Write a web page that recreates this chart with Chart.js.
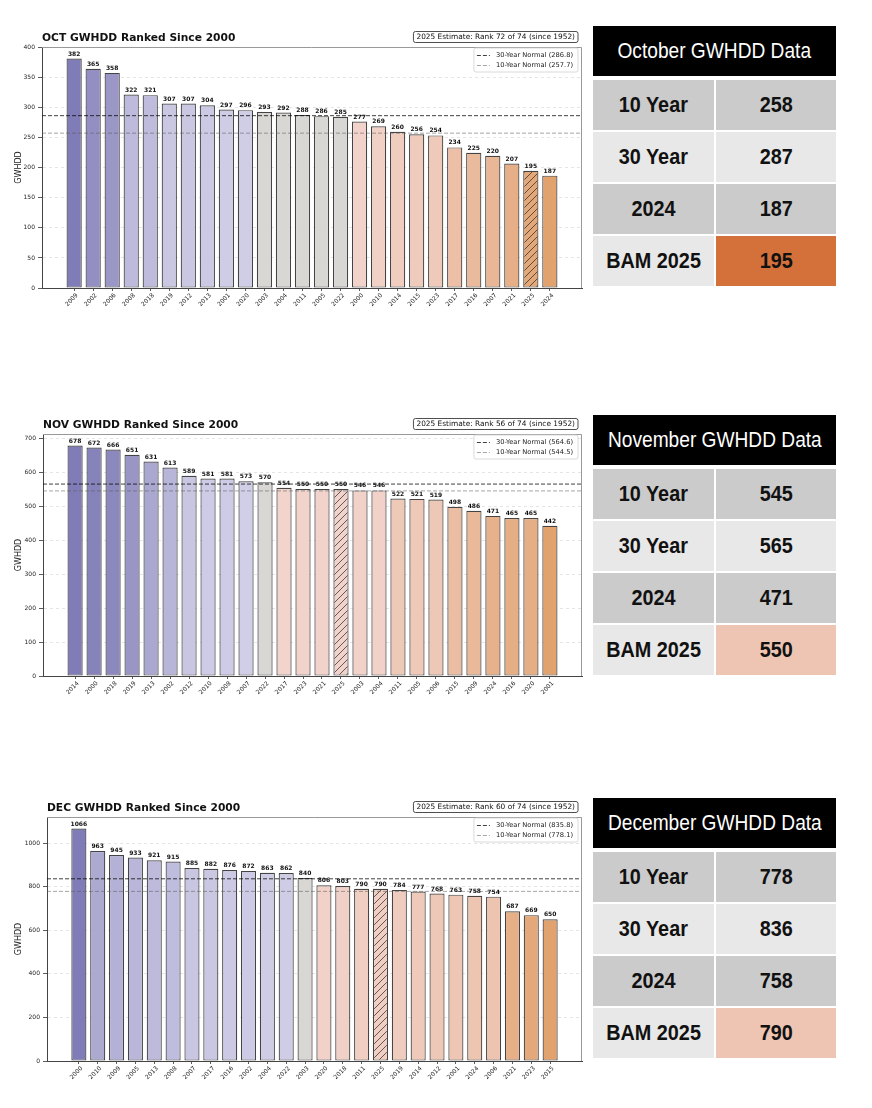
<!DOCTYPE html>
<html>
<head>
<meta charset="utf-8">
<title>GWHDD Ranked Since 2000</title>
<script src="https://cdn.jsdelivr.net/npm/chart.js@4.4.1/dist/chart.umd.min.js"></script>
<style>
  html, body { margin: 0; padding: 0; background: #fff; }
  body { position: relative; width: 872px; height: 1108px; overflow: hidden; }
  canvas.panel { position: absolute; left: 0; }
  .tbl {
    position: absolute; left: 593px; width: 243px;
    display: grid; grid-template-columns: 121px 120px; column-gap: 2px; row-gap: 2px;
    font-family: "Liberation Sans", Arial, sans-serif;
  }
  .tbl .head {
    grid-column: 1 / 3; height: 50px; margin-bottom: 2px;
    background: #000; color: #fff; font-size: 22px;
    display: flex; align-items: center; justify-content: center; white-space: nowrap;
  }
  .tbl .head span { display: inline-block; transform: scaleX(0.87); }
  .tbl .cell {
    height: 50px; color: #111; font-size: 22px; font-weight: bold;
    display: flex; align-items: center; justify-content: center; white-space: nowrap;
  }
  .tbl .cell span { display: inline-block; transform: scaleX(0.9); }
  .dark { background: #cbcbcb; }
  .light { background: #e8e8e8; }
</style>
</head>
<body>
<canvas id="oct" class="panel" width="590" height="295" style="top:25px"></canvas>
<canvas id="nov" class="panel" width="590" height="296" style="top:412px"></canvas>
<canvas id="dec" class="panel" width="590" height="298" style="top:795px"></canvas>
<div id="octTable" class="tbl" style="top:26px"></div>
<div id="novTable" class="tbl" style="top:415px"></div>
<div id="decTable" class="tbl" style="top:798px"></div>

<script>
// ---- data ----
const OCT_YEARS = ['2009', '2002', '2006', '2008', '2018', '2019', '2012', '2013', '2001', '2020', '2003', '2004', '2011',
  '2005', '2022', '2000', '2010', '2014', '2015', '2023', '2017', '2016', '2007', '2021', '2025', '2024'];
const OCT_VALUES = [382, 365, 358, 322, 321, 307, 307, 304, 297, 296, 293, 292, 288,
  286, 285, 277, 269, 260, 256, 254, 234, 225, 220, 207, 195, 187];
const OCT_NORMALS = [286.8, 257.7];

const NOV_YEARS = ['2014', '2000', '2018', '2019', '2013', '2002', '2012', '2010', '2008', '2007', '2022', '2017', '2023',
  '2021', '2025', '2003', '2004', '2011', '2005', '2006', '2015', '2009', '2024', '2016', '2020', '2001'];
const NOV_VALUES = [678, 672, 666, 651, 631, 613, 589, 581, 581, 573, 570, 554, 550,
  550, 550, 546, 546, 522, 521, 519, 498, 486, 471, 465, 465, 442];
const NOV_NORMALS = [564.6, 544.5];

const DEC_YEARS = ['2000', '2010', '2009', '2005', '2013', '2008', '2007', '2017', '2016', '2002', '2004', '2022', '2003',
  '2020', '2018', '2011', '2025', '2019', '2014', '2012', '2001', '2024', '2006', '2021', '2023', '2015'];
const DEC_VALUES = [1066, 963, 945, 933, 921, 915, 885, 882, 876, 872, 863, 862, 840,
  806, 803, 790, 790, 784, 777, 768, 763, 758, 754, 687, 669, 650];
const DEC_NORMALS = [835.8, 778.1];

const RANKS = ['2025 Estimate: Rank 72 of 74 (since 1952)', '2025 Estimate: Rank 56 of 74 (since 1952)',
  '2025 Estimate: Rank 60 of 74 (since 1952)'];

const TABLE_LABELS = ['10 Year', '30 Year', '2024', 'BAM 2025'];
const OCT_TABLE = [258, 287, 187, 195];
const NOV_TABLE = [545, 565, 471, 550];
const DEC_TABLE = [778, 836, 758, 790];

const ESTIMATE_YEAR = '2025';

Chart.defaults.font.family = '"DejaVu Sans", sans-serif';
Chart.defaults.color = '#222';

// purple above the 30 year normal, grey near it, pink/orange below
function barColor(v, normal, maxUp, maxDown) {
  const d = v - normal;
  if (Math.abs(d) < 7.5) return 'rgb(216,215,212)';
  const t = Math.pow(Math.abs(d) / (d > 0 ? maxUp : maxDown), 1.3);
  const lo = d > 0 ? [212, 210, 233] : [243, 214, 209];
  const hi = d > 0 ? [128, 124, 183] : [226, 162, 110];
  return 'rgb(' + lo.map((c, i) => Math.round(c + (hi[i] - c) * t)).join(',') + ')';
}

function hatch(ctx, color) {
  const c = document.createElement('canvas');
  c.width = 7; c.height = 7;
  const g = c.getContext('2d');
  g.fillStyle = color;
  g.fillRect(0, 0, 7, 7);
  g.strokeStyle = 'rgba(40,40,40,0.9)';
  g.lineWidth = 0.8;
  g.beginPath();
  g.moveTo(0, 7); g.lineTo(7, 0);
  g.moveTo(-1, 1); g.lineTo(1, -1);
  g.moveTo(6, 8); g.lineTo(8, 6);
  g.stroke();
  return ctx.createPattern(c, 'repeat');
}

function roundRect(ctx, x, y, w, h, r) {
  ctx.beginPath();
  ctx.moveTo(x + r, y);
  ctx.arcTo(x + w, y, x + w, y + h, r);
  ctx.arcTo(x + w, y + h, x, y + h, r);
  ctx.arcTo(x, y + h, x, y, r);
  ctx.arcTo(x, y, x + w, y, r);
  ctx.closePath();
}

const decor = {
  id: 'decor',
  afterDatasetsDraw(chart) {
    const ctx = chart.ctx;
    const ds = chart.data.datasets[0];
    ctx.save();
    ctx.font = 'bold 6px "DejaVu Sans"';
    ctx.fillStyle = '#111';
    ctx.textAlign = 'center';
    ctx.textBaseline = 'bottom';
    chart.getDatasetMeta(0).data.forEach((bar, i) => {
      ctx.fillText(String(ds.data[i].y), bar.x, bar.y - 1.5);
    });
    ctx.restore();
  },
  afterDraw(chart, args, o) {
    const ctx = chart.ctx;
    const a = chart.chartArea;
    ctx.save();

    // top + right spines
    ctx.strokeStyle = '#999';
    ctx.lineWidth = 1;
    ctx.beginPath();
    ctx.moveTo(a.left, a.top + 0.5);
    ctx.lineTo(a.right - 0.5, a.top + 0.5);
    ctx.lineTo(a.right - 0.5, a.bottom);
    ctx.stroke();

    // title
    ctx.font = 'bold 10.7px "DejaVu Sans"';
    ctx.fillStyle = '#111';
    ctx.textAlign = 'left';
    ctx.textBaseline = 'middle';
    ctx.fillText(o.title, a.left, a.top - 8.5);

    // rank box
    ctx.font = '7.4px "DejaVu Sans"';
    const rw = ctx.measureText(o.rank).width + 6;
    const rx = a.right - 4 - rw, ry = a.top - 15.5;
    roundRect(ctx, rx, ry, rw, 11, 2);
    ctx.fillStyle = '#fff';
    ctx.fill();
    ctx.strokeStyle = '#222';
    ctx.lineWidth = 0.8;
    ctx.stroke();
    ctx.fillStyle = '#111';
    ctx.fillText(o.rank, rx + 3, ry + 5.7);

    // legend for the normal lines
    const items = chart.data.datasets.slice(1);
    ctx.font = '6.7px "DejaVu Sans"';
    const tw = Math.max(...items.map(d => ctx.measureText(d.label).width));
    const lw = tw + 27, lx = a.right - 4 - lw, ly = a.top + 1;
    roundRect(ctx, lx, ly, lw, 24, 2);
    ctx.fillStyle = 'rgba(255,255,255,0.85)';
    ctx.fill();
    ctx.strokeStyle = '#d0d0d0';
    ctx.lineWidth = 0.8;
    ctx.stroke();
    items.forEach((d, i) => {
      const y = ly + 7.5 + i * 10;
      ctx.strokeStyle = d.borderColor;
      ctx.lineWidth = d.borderWidth;
      ctx.setLineDash(d.borderDash);
      ctx.beginPath();
      ctx.moveTo(lx + 3, y);
      ctx.lineTo(lx + 16, y);
      ctx.stroke();
      ctx.setLineDash([]);
      ctx.fillStyle = '#222';
      ctx.fillText(d.label, lx + 22, y);
    });
    ctx.restore();
  }
};

function makeChart(id, title, years, values, normals, rank, yStep, axisWidth) {
  const canvas = document.getElementById(id);
  const ctx = canvas.getContext('2d');
  const n = years.length;
  const pad = 0.4 + 0.05 * (n - 0.2);
  const maxUp = Math.max(...values) - normals[0];
  const maxDown = normals[0] - Math.min(...values);
  const colors = values.map((v, i) => {
    const c = barColor(v, normals[0], maxUp, maxDown);
    return years[i] === ESTIMATE_YEAR ? hatch(ctx, c) : c;
  });

  return new Chart(canvas, {
    type: 'bar',
    data: {
      datasets: [{
        label: 'GWHDD',
        data: values.map((v, i) => ({ x: i, y: v })),
        backgroundColor: colors,
        borderColor: 'rgba(35,35,35,0.85)',
        borderWidth: 1.2,
        borderSkipped: false,
        barPercentage: 0.8,
        categoryPercentage: 1,
        order: 2
      }, {
        type: 'line',
        label: '30-Year Normal (' + normals[0].toFixed(1) + ')',
        data: [{ x: -pad, y: normals[0] }, { x: n - 1 + pad, y: normals[0] }],
        borderColor: 'rgba(0,0,0,0.75)',
        borderWidth: 1,
        borderDash: [4, 2],
        pointRadius: 0,
        order: 0
      }, {
        type: 'line',
        label: '10-Year Normal (' + normals[1].toFixed(1) + ')',
        data: [{ x: -pad, y: normals[1] }, { x: n - 1 + pad, y: normals[1] }],
        borderColor: 'rgba(90,90,90,0.6)',
        borderWidth: 0.9,
        borderDash: [4, 2],
        pointRadius: 0,
        order: 1
      }]
    },
    options: {
      responsive: false,
      animation: false,
      events: [],
      layout: { padding: { top: 22, right: 8, left: 0, bottom: 0 } },
      plugins: {
        legend: { display: false },
        tooltip: { enabled: false },
        decor: { title: title, rank: rank }
      },
      scales: {
        x: {
          type: 'linear',
          min: -pad,
          max: n - 1 + pad,
          bounds: 'data',
          offset: false,
          afterBuildTicks: s => { s.ticks = years.map((_, i) => ({ value: i })); },
          afterFit: s => { s.height = 32; },
          border: { color: '#444', width: 1 },
          grid: { offset: false, drawOnChartArea: false, drawTicks: true, tickLength: 3, tickColor: '#333', tickWidth: 0.8 },
          ticks: {
            autoSkip: false, minRotation: 45, maxRotation: 45, padding: 1, labelOffset: 3,
            font: { size: 6 }, color: '#222',
            callback: v => years[v] ?? ''
          }
        },
        y: {
          min: 0,
          max: Math.max(...values) * 1.05,
          bounds: 'data',
          afterBuildTicks: s => {
            const t = [];
            for (let v = 0; v <= s.max; v += yStep) t.push({ value: v });
            s.ticks = t;
          },
          afterFit: s => { s.width = axisWidth; },
          border: { color: '#444', width: 1, dash: [3, 3] },
          grid: { color: 'rgba(0,0,0,0.13)', lineWidth: 0.8, tickLength: 4, tickColor: '#333', tickWidth: 0.8, tickBorderDash: [] },
          title: { display: true, text: 'GWHDD', font: { size: 8 }, color: '#222', padding: { top: 14, bottom: 0 } },
          ticks: { padding: 3, font: { size: 6 }, color: '#222', callback: v => v }
        }
      }
    },
    plugins: [decor]
  });
}

function makeTable(id, title, values, highlight) {
  const el = document.getElementById(id);
  let html = '<div class="head"><span>' + title + '</span></div>';
  TABLE_LABELS.forEach((label, i) => {
    const shade = i % 2 === 0 ? 'dark' : 'light';
    const last = i === TABLE_LABELS.length - 1;
    html += '<div class="cell ' + (last ? 'light' : shade) + '"><span>' + label + '</span></div>';
    html += '<div class="cell ' + (last ? '' : shade) + '"' + (last ? ' style="background:' + highlight + '"' : '') + '><span>' +
      values[i] + '</span></div>';
  });
  el.innerHTML = html;
}

makeChart('oct', 'OCT GWHDD Ranked Since 2000', OCT_YEARS, OCT_VALUES, OCT_NORMALS, RANKS[0], 50, 42);
makeChart('nov', 'NOV GWHDD Ranked Since 2000', NOV_YEARS, NOV_VALUES, NOV_NORMALS, RANKS[1], 100, 43);
makeChart('dec', 'DEC GWHDD Ranked Since 2000', DEC_YEARS, DEC_VALUES, DEC_NORMALS, RANKS[2], 200, 47);

makeTable('octTable', 'October GWHDD Data', OCT_TABLE, '#d4703a');
makeTable('novTable', 'November GWHDD Data', NOV_TABLE, '#eec5b2');
makeTable('decTable', 'December GWHDD Data', DEC_TABLE, '#eec5b2');
</script>
</body>
</html>
